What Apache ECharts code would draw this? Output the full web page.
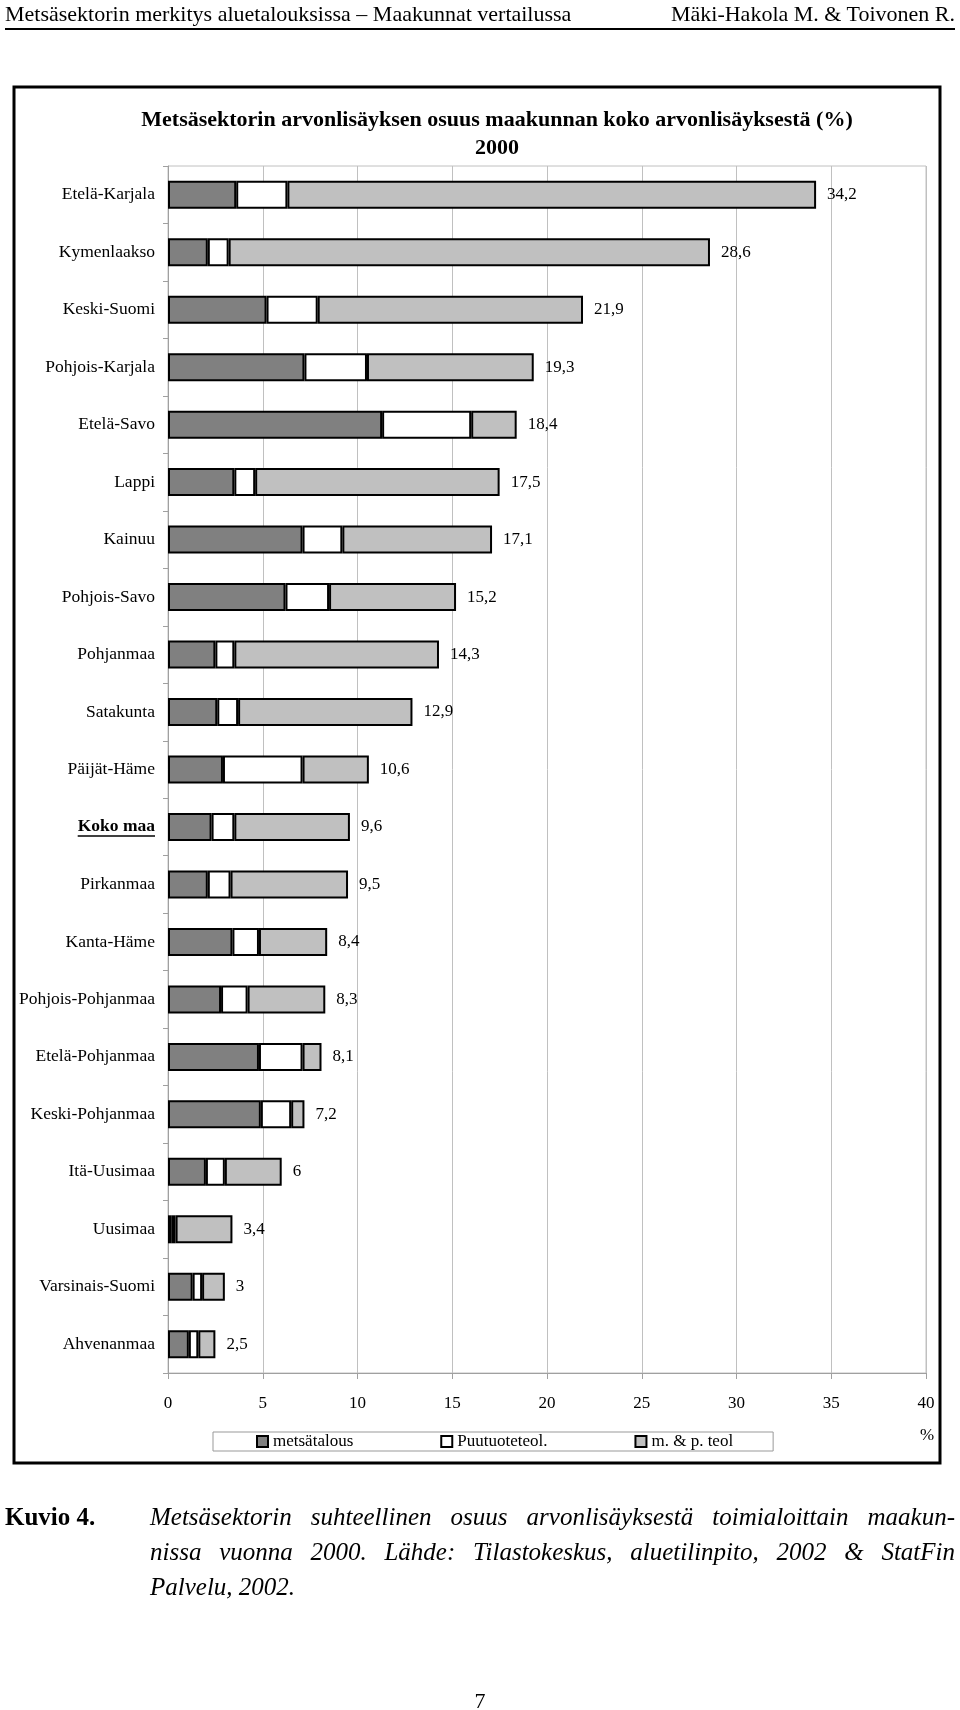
<!DOCTYPE html>
<html>
<head>
<meta charset="utf-8">
<title>Metsäsektorin arvonlisäyksen osuus</title>
<script src="https://cdn.jsdelivr.net/npm/echarts@6/dist/echarts.min.js"></script>
<style>
    body {
        margin: 0;
        background: #fff;
        font-family: 'Liberation Serif', 'Times New Roman', serif;
    }
    #page {
        position: relative;
        width: 960px;
        height: 1710px;
        overflow: hidden;
    }
    #mychart {
        position: absolute;
        left: 0;
        top: 0;
        width: 960px;
        height: 1710px;
    }
    .header {
        position: absolute;
        left: 5px;
        width: 950px;
        top: 1px;
        height: 27px;
        font-size: 22px;
        line-height: 26px;
        border-bottom: 2px solid #000;
        display: flex;
        justify-content: space-between;
    }
    .caption {
        position: absolute;
        top: 1499px;
        left: 5px;
        width: 950px;
        font-size: 25px;
        line-height: 35px;
    }
    .caption b {
        position: absolute;
        left: 0;
        top: 0;
    }
    .caption .txt {
        margin-left: 145px;
        font-style: italic;
    }
    .caption .j {
        text-align: justify;
        text-align-last: justify;
    }
    .pagenr {
        position: absolute;
        top: 1688px;
        left: 0;
        width: 960px;
        text-align: center;
        font-size: 22px;
    }
</style>
</head>
<body>
<div id="page">
    <div id="mychart"></div>
    <div class="header"><span>Metsäsektorin merkitys aluetalouksissa – Maakunnat vertailussa</span><span>Mäki-Hakola M. &amp; Toivonen R.</span></div>
    <div class="caption">
        <b>Kuvio 4.</b>
        <div class="txt">
            <div class="j">Metsäsektorin suhteellinen osuus arvonlisäyksestä toimialoittain maakun-</div>
            <div class="j">nissa vuonna 2000. Lähde: Tilastokeskus, aluetilinpito, 2002 &amp; StatFin</div>
            <div>Palvelu, 2002.</div>
        </div>
    </div>
    <div class="pagenr">7</div>
</div>
<script>
    var regions = ['Etelä-Karjala', 'Kymenlaakso', 'Keski-Suomi', 'Pohjois-Karjala', 'Etelä-Savo', 'Lappi',
        'Kainuu', 'Pohjois-Savo', 'Pohjanmaa', 'Satakunta', 'Päijät-Häme', 'Koko maa', 'Pirkanmaa',
        'Kanta-Häme', 'Pohjois-Pohjanmaa', 'Etelä-Pohjanmaa', 'Keski-Pohjanmaa', 'Itä-Uusimaa',
        'Uusimaa', 'Varsinais-Suomi', 'Ahvenanmaa'];
    // metsätalous
    var metsatalous = [3.6, 2.1, 5.2, 7.2, 11.3, 3.5, 7.1, 6.2, 2.5, 2.6, 2.9, 2.3, 2.1, 3.4, 2.8, 4.8, 4.9, 2.0, 0.2, 1.3, 1.1];
    // Puutuoteteol.
    var puutuote = [2.7, 1.1, 2.7, 3.3, 4.7, 1.1, 2.1, 2.3, 1.0, 1.1, 4.2, 1.2, 1.2, 1.4, 1.4, 2.3, 1.6, 1.0, 0.2, 0.5, 0.5];
    // m. & p. teol
    var mpteol = [27.9, 25.4, 14.0, 8.8, 2.4, 12.9, 7.9, 6.7, 10.8, 9.2, 3.5, 6.1, 6.2, 3.6, 4.1, 1.0, 0.7, 3.0, 3.0, 1.2, 0.9];
    // yhteensä (data labels)
    var totals = [34.2, 28.6, 21.9, 19.3, 18.4, 17.5, 17.1, 15.2, 14.3, 12.9, 10.6, 9.6, 9.5, 8.4, 8.3, 8.1, 7.2, 6, 3.4, 3, 2.5];
    var xTicks = [0, 5, 10, 15, 20, 25, 30, 35, 40];

    var font = "'Liberation Serif', 'Times New Roman', serif";
    var gridLeft = 168, labelMargin = 13;

    var mychart = echarts.init(document.getElementById('mychart'));

    var barStyle = function (color) {
        return {color: color, borderColor: '#000', borderWidth: 2};
    };

    var option = {
        animation: false,
        textStyle: {fontFamily: font, color: '#000'},
        title: {
            text: 'Metsäsektorin arvonlisäyksen osuus maakunnan koko arvonlisäyksestä (%)\n2000',
            left: 492,
            top: 101,
            textAlign: 'center',
            textStyle: {
                fontFamily: font,
                fontSize: 22,
                fontWeight: 'bold',
                lineHeight: 28,
                color: '#000'
            }
        },
        legend: {
            left: 213,
            top: 1432,
            padding: [1, 40, 1, 43],
            itemGap: 87,
            itemWidth: 11,
            itemHeight: 11,
            icon: 'rect',
            borderColor: '#999',
            borderWidth: 1,
            borderRadius: 0,
            textStyle: {fontFamily: font, fontSize: 17, color: '#000', padding: [6, 0, 0, 0]},
            data: ['metsätalous', 'Puutuoteteol.', 'm. & p. teol']
        },
        grid: {
            left: gridLeft,
            top: 166,
            width: 758,
            height: 1207,
            show: true,
            borderColor: '#c0c0c0',
            borderWidth: 1
        },
        xAxis: {
            type: 'value',
            min: 0,
            max: 40,
            interval: 5,
            axisLine: {show: true, lineStyle: {color: '#a0a0a0', width: 1}},
            axisTick: {show: true, length: 6, lineStyle: {color: '#a0a0a0'}},
            splitLine: {show: true, lineStyle: {color: '#c0c0c0', width: 1}},
            axisLabel: {
                fontFamily: font, fontSize: 17, color: '#000', margin: 22,
                formatter: function (v) {
                    return xTicks.indexOf(v) >= 0 ? String(v) : '';
                }
            }
        },
        yAxis: {
            type: 'category',
            inverse: true,
            data: regions,
            axisLine: {show: true, lineStyle: {color: '#a0a0a0', width: 1}},
            axisTick: {show: true, length: 5, alignWithLabel: false, lineStyle: {color: '#a0a0a0'}},
            axisLabel: {
                fontFamily: font, fontSize: 17.5, color: '#000', margin: labelMargin,
                formatter: function (v) {
                    return v === 'Koko maa' ? '{b|' + v + '}' : v;
                },
                rich: {
                    b: {fontFamily: font, fontSize: 17.5, fontWeight: 'bold', color: '#000'}
                }
            }
        },
        series: [{
            name: 'metsätalous',
            type: 'bar',
            stack: 'osuus',
            barWidth: 28,
            itemStyle: barStyle('#808080'),
            data: metsatalous
        }, {
            name: 'Puutuoteteol.',
            type: 'bar',
            stack: 'osuus',
            barWidth: 28,
            itemStyle: barStyle('#ffffff'),
            data: puutuote
        }, {
            name: 'm. & p. teol',
            type: 'bar',
            stack: 'osuus',
            barWidth: 28,
            itemStyle: barStyle('#c0c0c0'),
            label: {
                show: true,
                position: 'right',
                distance: 11,
                fontFamily: font,
                fontSize: 17,
                color: '#000',
                formatter: function (p) {
                    return String(totals[p.dataIndex]).replace('.', ',');
                }
            },
            data: mpteol
        }]
    };
    mychart.setOption(option);

    // outer frame, percent sign and underline of "Koko maa"
    var ctx = document.createElement('canvas').getContext('2d');
    ctx.font = 'bold 17.5px ' + font;
    var kokoW = ctx.measureText('Koko maa').width;
    var kokoY = mychart.convertToPixel({yAxisIndex: 0}, 'Koko maa');
    var labelRight = gridLeft - labelMargin;

    mychart.setOption({
        graphic: [{
            type: 'rect',
            shape: {x: 14, y: 87, width: 926, height: 1376},
            style: {fill: 'none', stroke: '#000', lineWidth: 3},
            z: -1
        }, {
            type: 'text',
            x: 927,
            y: 1436,
            style: {text: '%', font: '17px ' + font, fill: '#000', align: 'center', verticalAlign: 'middle'}
        }, {
            type: 'line',
            shape: {x1: labelRight - kokoW, y1: kokoY + 9, x2: labelRight, y2: kokoY + 9},
            style: {stroke: '#000', lineWidth: 1.5}
        }]
    });
</script>
</body>
</html>
